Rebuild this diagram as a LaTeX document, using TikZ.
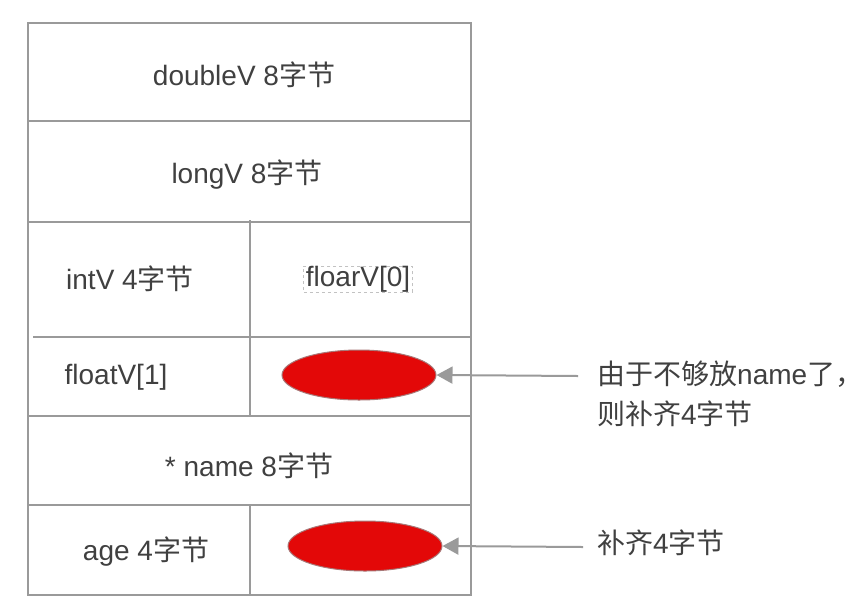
\documentclass[tikz,border=0pt]{standalone}
\usepackage{fontspec}
\setmainfont{Liberation Sans}
\newfontfamily\cjk{Noto Sans CJK SC}
\newcommand{\zh}[1]{{\cjk #1}}
\usetikzlibrary{arrows.meta,shapes.geometric}
\definecolor{linegray}{HTML}{9A9A9A}
\definecolor{txt}{HTML}{404040}
\definecolor{ellred}{HTML}{E30808}
\definecolor{ellline}{HTML}{A87878}
\tikzset{
  grid/.style={draw=linegray, line width=2pt},
  lbl/.style={text=txt, font=\fontsize{28}{32}\selectfont, inner sep=0pt},
  pad/.style={ellipse, fill=ellred, draw=ellline, line width=1pt, minimum width=154pt, minimum height=50pt, inner sep=0pt},
  arr/.style={draw=linegray, line width=2pt, -{Triangle[length=16pt,width=17pt]}},
}
\begin{document}
\begin{tikzpicture}[x=1pt,y=-1pt]
\useasboundingbox (0,0) rectangle (864,614);
% outer frame and rows
\draw[grid] (28,23) rectangle (471,595);
\draw[grid] (28,121) -- (471,121);
\draw[grid] (28,222) -- (471,222);
\draw[grid] (33,337) -- (471,337);
\draw[grid] (28,416) -- (471,416);
\draw[grid] (28,505) -- (471,505);
\draw[grid] (250,220) -- (250,416);
\draw[grid] (250,505) -- (250,595);
% labels
\node[lbl] (dv) at (244,75) {doubleV 8\zh{字节}};
\node[lbl] (lv) at (247,175) {longV 8\zh{字节}};
\node[lbl] (iv) at (130,279) {intV 4\zh{字节}};
\node[lbl, draw=linegray!60, dashed, line width=1pt, inner xsep=2pt, text height=20pt, text depth=6pt] (f0) at (358,279) {floarV[0]};
\node[lbl] (f1) at (116,377) {floatV[1]};
\node[lbl] (nm) at (249,466) {* name 8\zh{字节}};
\node[lbl] (ag) at (146,552) {age 4\zh{字节}};
% padding ellipses
\node[pad] (p1) at (359,375) {};
\node[pad] (p2) at (365,546) {};
% notes
\node[lbl, anchor=north west, align=left, font=\fontsize{28}{40}\selectfont] (n1) at (597,361) {\zh{由于不够放}name\zh{了，}\\\zh{则补齐}4\zh{字节}};
\node[lbl, anchor=west] (n2) at (597,543) {\zh{补齐}4\zh{字节}};
\coordinate (s1) at (578,376);
\coordinate (s2) at (583,547);
\draw[arr] (s1) -- (p1.east);
\draw[arr] (s2) -- (p2.east);
\end{tikzpicture}
\end{document}
